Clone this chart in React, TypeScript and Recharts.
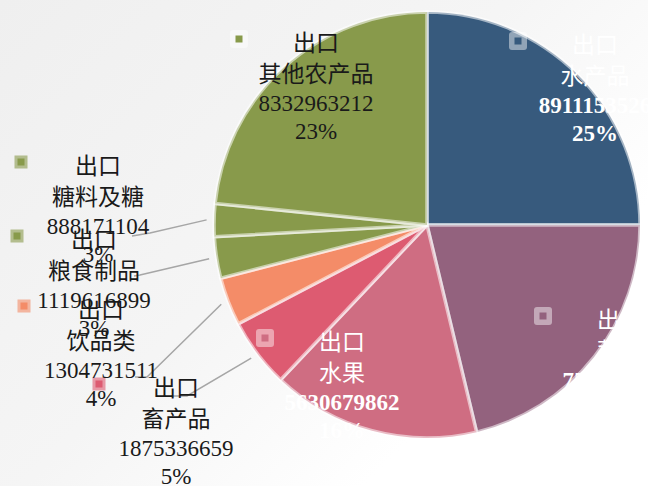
import { PieChart, Pie, Cell } from "recharts";

const categories = ["水产品", "蔬菜", "水果", "畜产品", "饮品类", "粮食制品", "糖料及糖", "其他农产品"];
const exportValues = [8911153526, 7573640412, 5630679862, 1875336659, 1304731511, 1119616899, 888171104, 8332963212];
const percentLabels = ["25%", "21%", "16%", "5%", "4%", "3%", "3%", "23%"];
const seriesPrefix = "出口";

const sliceColors = ["#375a7d", "#93627e", "#cf6d82", "#dd5b71", "#f48c68", "#889a4b", "#889a4b", "#889a4b"];

// Excel "best fit" label placement, offsets from the pie centre
const labelOffsets: [number, number][] = [
  [168, -180],
  [193, 95],
  [-85, 117],
  [-251, 163],
  [-326, 85],
  [-333, 15],
  [-329, -59],
  [-111, -182],
];
const labelInside = [true, true, true, false, false, false, false, true];
const labelWhite = [true, true, true, false, false, false, false, false];
// leader line elbow + end, relative to label anchor
const leaders: ([number, number][] | null)[] = [
  null,
  null,
  null,
  [[11, 8], [-3, 8]],
  [[46, 67], [34, 67]],
  [[46, 35], [40, 36]],
  [[52, 67], [34, 70]],
  null,
];

const lineOffsets = [0, 31, 60, 88];
const FONT = "'Liberation Serif', 'Noto Sans CJK SC', serif";
const RAD = Math.PI / 180;

const chartData = categories.map((name, i) => ({ name, value: exportValues[i] }));

function renderLabel(props: any) {
  const { cx, cy, midAngle, outerRadius, index } = props;
  const [ox, oy] = labelOffsets[index];
  const lx = cx + ox;
  const ly = cy + oy;
  const color = sliceColors[index];
  const textColor = labelWhite[index] ? "#ffffff" : "#1a1a1a";
  const lines = [seriesPrefix, categories[index], String(exportValues[index]), percentLabels[index]];
  const leader = leaders[index];
  let path = null;
  if (leader) {
    const r = outerRadius * 1.035;
    const sx = cx + r * Math.cos(-midAngle * RAD);
    const sy = cy + r * Math.sin(-midAngle * RAD);
    const pts = [[sx, sy], ...leader.map(([dx, dy]) => [lx + dx, ly + dy])];
    path = (
      <polyline
        points={pts.map((p) => p.join(",")).join(" ")}
        fill="none"
        stroke="#a6a6a6"
        strokeWidth={1.5}
      />
    );
  }
  const mx = lx - 77;
  const my = ly - 4;
  const inside = labelInside[index];
  const box = inside ? 18 : 13;
  return (
    <g key={`lbl-${index}`}>
      {path}
      <rect
        x={mx - box / 2}
        y={my - box / 2}
        width={box}
        height={box}
        rx={inside ? 3 : 0}
        fill={inside ? "#ffffff" : color}
        fillOpacity={inside ? 0.45 : 0.6}
      />
      <rect x={mx - 3.5} y={my - 3.5} width={7} height={7} fill={color} />
      {lines.map((t, i) => (
        <text
          key={i}
          x={lx}
          y={ly + lineOffsets[i]}
          textAnchor="middle"
          dominantBaseline="central"
          fill={textColor}
          fontFamily={FONT}
          fontSize={23}
          fontWeight={labelWhite[index] && i >= 2 ? "bold" : "normal"}
        >
          {t}
        </text>
      ))}
    </g>
  );
}

export default function App() {
  return (
    <div
      style={{
        position: "absolute",
        left: 0,
        top: 0,
        width: 648,
        height: 486,
        overflow: "hidden",
        background: "linear-gradient(135deg, #efefef 0%, #f5f5f5 45%, #ffffff 75%)",
      }}
    >
      <PieChart width={648} height={486} margin={{ top: 0, right: 0, bottom: 0, left: 0 }}>
        <Pie
          data={chartData}
          dataKey="value"
          nameKey="name"
          cx={427}
          cy={225}
          outerRadius={213}
          startAngle={90}
          endAngle={-270}
          stroke="rgba(255,255,255,0.55)"
          strokeWidth={3.5}
          label={renderLabel}
          labelLine={false}
          isAnimationActive={false}
        >
          {chartData.map((entry, index) => (
            <Cell key={`cell-${index}`} fill={sliceColors[index]} />
          ))}
        </Pie>
      </PieChart>
    </div>
  );
}
